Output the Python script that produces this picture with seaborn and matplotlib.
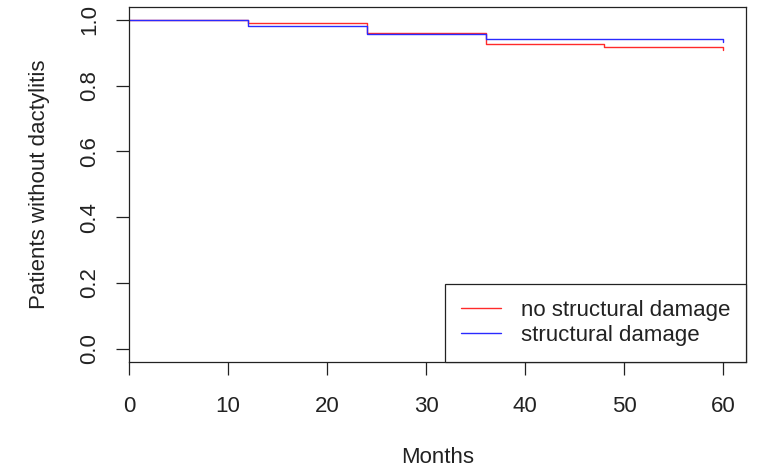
import matplotlib
matplotlib.use("Agg")
import matplotlib.pyplot as plt
import numpy as np
import pandas as pd
import seaborn as sns

# Kaplan-Meier style step data
months_no_damage = [0, 12, 24, 36, 48, 60, 60]
surv_no_damage = [1.0, 0.990, 0.960, 0.926, 0.917, 0.917, 0.907]
months_damage = [0, 12, 24, 36, 60, 60]
surv_damage = [1.0, 0.980, 0.957, 0.942, 0.942, 0.932]

group_labels = ["no structural damage", "structural damage"]
group_colors = ["#ff2a2a", "#2a2aff"]

x_ticks = [0, 10, 20, 30, 40, 50, 60]
y_ticks = [0.0, 0.2, 0.4, 0.6, 0.8, 1.0]

df = pd.concat([
    pd.DataFrame({"Months": months_no_damage, "surv": surv_no_damage, "group": group_labels[0]}),
    pd.DataFrame({"Months": months_damage, "surv": surv_damage, "group": group_labels[1]}),
], ignore_index=True)

sns.set_style("ticks")
plt.rcParams["font.family"] = ["Liberation Sans", "DejaVu Sans"]
FS = 16
INK = "#222222"

fig = plt.figure(figsize=(7.64, 4.73), dpi=100)
ax = fig.add_axes([129 / 764, 1 - 362 / 473, (746 - 129) / 764, (362 - 6.7) / 473])

sns.lineplot(data=df, x="Months", y="surv", hue="group", palette=group_colors,
             estimator=None, sort=False, drawstyle="steps-post", linewidth=1.0,
             legend=False, ax=ax)

ax.set_xlim(0, 62.3)
ax.set_ylim(-0.04, 1.04)
ax.set_xticks(x_ticks)
ax.set_yticks(y_ticks)
ax.set_xticklabels([str(t) for t in x_ticks])
ax.set_yticklabels([f"{t:.1f}" for t in y_ticks], rotation=90, va="center")
ax.tick_params(axis="both", direction="out", length=9.5, width=0.9, colors=INK,
               labelsize=FS, labelcolor=INK)
ax.tick_params(axis="x", pad=15)
ax.tick_params(axis="y", pad=11.5)

for s in ax.spines.values():
    s.set_color(INK)
    s.set_linewidth(0.9)

ax.set_xlabel("Months", fontsize=FS, color=INK)
ax.set_ylabel("Patients without dactylitis", fontsize=FS, color=INK)
ax.xaxis.set_label_coords(0.5, -(457 - 362) / 355.3)
ax.xaxis.label.set_va("center")
ax.yaxis.set_label_coords((39.5 - 129) / 617, 0.5)
ax.yaxis.label.set_va("center")

# legend in the lower right corner, touching the frame
leg = ax.legend(ax.get_lines(), group_labels, loc="lower right", bbox_to_anchor=(1, 0),
                borderaxespad=0, fancybox=False, frameon=True, fontsize=FS,
                handlelength=1.8, handletextpad=0.9, labelspacing=0.185, borderpad=0.72)
leg.get_frame().set_edgecolor(INK)
leg.get_frame().set_linewidth(0.9)
leg.get_frame().set_alpha(1)
for t in leg.get_texts():
    t.set_color(INK)

fig.savefig("out.png", dpi=100)
